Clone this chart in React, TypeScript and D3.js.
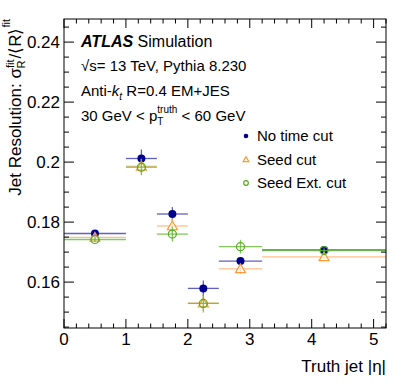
import React from "react";
import * as d3 from "d3";

// bins in |eta|
const binLow = [0, 1, 1.5, 2, 2.5, 3.2];
const binHigh = [1, 1.5, 2, 2.5, 3.2, 5.2];

// resolution per series
const noTimeCut = [0.1762, 0.2012, 0.1827, 0.1579, 0.167, 0.1707];
const noTimeCutErr = [0.0009, 0.003, 0.0023, 0.0026, 0.0012, 0.0008];
const seedCut = [0.1749, 0.1986, 0.1787, 0.153, 0.1644, 0.1684];
const seedCutErr = [0.0008, 0.0025, 0.0025, 0.0025, 0.0017, 0.0008];
const seedExtCut = [0.1742, 0.1983, 0.176, 0.1529, 0.1718, 0.1705];
const seedExtCutErr = [0.0008, 0.0027, 0.0025, 0.003, 0.0023, 0.0008];

const xMajor = [0, 1, 2, 3, 4, 5];
const yMajor = [0.16, 0.18, 0.2, 0.22, 0.24];
const yLabels = ["0.16", "0.18", "0.2", "0.22", "0.24"];

const FONT = "'Liberation Sans', Arial, Helvetica, sans-serif";

const series = [
  { name: "No time cut", values: noTimeCut, errs: noTimeCutErr, line: "#3a3ab0", marker: "#00008f", shape: "dot" },
  { name: "Seed cut", values: seedCut, errs: seedCutErr, line: "#ffb070", marker: "#ff9933", shape: "tri" },
  { name: "Seed Ext. cut", values: seedExtCut, errs: seedExtCutErr, line: "#66bb33", marker: "#55aa22", shape: "ring" },
];

function Marker({ shape, cx, cy, color, size }: any) {
  if (shape === "dot") return <circle cx={cx} cy={cy} r={size} fill={color} />;
  if (shape === "ring") return <circle cx={cx} cy={cy} r={size} fill="none" stroke={color} strokeWidth={1.2} />;
  const s = size * 1.25;
  const pts = [[cx, cy - s], [cx - s, cy + s * 0.75], [cx + s, cy + s * 0.75]];
  return <polygon points={pts.map((p) => p.join(",")).join(" ")} fill="white" fillOpacity={0.6} stroke={color} strokeWidth={1.2} />;
}

export default function App() {
  const W = 407, H = 391;
  const left = 64, right = 386, top = 19, bottom = 328;
  const x = d3.scaleLinear().domain([0, 5.2]).range([left, right]);
  const y = d3.scaleLinear().domain([0.1447, 0.2477]).range([bottom, top]);

  const xMinor = d3.range(0, 5.2001, 0.2).filter((v) => Math.abs(v - Math.round(v)) > 1e-6);
  const yMinor = d3.range(0.145, 0.2476, 0.005).filter((v) => !yMajor.some((m) => Math.abs(m - v) < 1e-6));

  return (
    <svg width={W} height={H} style={{ position: "absolute", left: 0, top: 0, background: "white" }} fontFamily={FONT}>
      <rect x={0} y={0} width={W} height={H} fill="white" />

      {/* data */}
      {series.map((s) => (
        <g key={s.name}>
          {s.values.map((v, i) => {
            const cx = x((binLow[i] + binHigh[i]) / 2);
            return (
              <g key={i}>
                <line x1={x(binLow[i])} x2={x(binHigh[i])} y1={y(v)} y2={y(v)} stroke={s.line} strokeWidth={1.3} opacity={0.8} />
                <line x1={cx} x2={cx} y1={y(v - s.errs[i])} y2={y(v + s.errs[i])} stroke={s.line} strokeWidth={1.3} opacity={0.8} />
                <Marker shape={s.shape} cx={cx} cy={y(v)} color={s.marker} size={4} />
              </g>
            );
          })}
        </g>
      ))}

      {/* frame */}
      <rect x={left} y={top} width={right - left} height={bottom - top} fill="none" stroke="black" strokeWidth={1} />

      {/* x ticks */}
      {xMajor.map((v) => (
        <g key={"xM" + v}>
          <line x1={x(v)} x2={x(v)} y1={bottom} y2={bottom - 9} stroke="black" />
          <line x1={x(v)} x2={x(v)} y1={top} y2={top + 9} stroke="black" />
          <text x={x(v)} y={345} fontSize={17} textAnchor="middle">{v}</text>
        </g>
      ))}
      {xMinor.map((v) => (
        <g key={"xm" + v}>
          <line x1={x(v)} x2={x(v)} y1={bottom} y2={bottom - 4.5} stroke="black" />
          <line x1={x(v)} x2={x(v)} y1={top} y2={top + 4.5} stroke="black" />
        </g>
      ))}

      {/* y ticks */}
      {yMajor.map((v, i) => (
        <g key={"yM" + v}>
          <line x1={left} x2={left + 10} y1={y(v)} y2={y(v)} stroke="black" />
          <line x1={right} x2={right - 10} y1={y(v)} y2={y(v)} stroke="black" />
          <text x={left - 4} y={y(v) + 6} fontSize={17} textAnchor="end">{yLabels[i]}</text>
        </g>
      ))}
      {yMinor.map((v) => (
        <g key={"ym" + v}>
          <line x1={left} x2={left + 5} y1={y(v)} y2={y(v)} stroke="black" />
          <line x1={right} x2={right - 5} y1={y(v)} y2={y(v)} stroke="black" />
        </g>
      ))}

      {/* axis titles */}
      <text x={right} y={372} fontSize={17} textAnchor="end">Truth jet |η|</text>
      <text transform={`translate(21, ${top}) rotate(-90)`} fontSize={17} textAnchor="end">
        Jet Resolution: σ
        <tspan fontSize={11} dy={-7}>fit</tspan>
        <tspan fontSize={11} dx={-9} dy={11}>R</tspan>
        <tspan dx={2} dy={-4}>/⟨R⟩</tspan>
        <tspan fontSize={11} dy={-11}>fit</tspan>
      </text>

      {/* labels */}
      <text x={81} y={47} fontSize={16}>
        <tspan fontWeight="bold" fontStyle="italic">ATLAS</tspan>
        <tspan> Simulation</tspan>
      </text>
      <text x={81} y={71} fontSize={15}>√s= 13 TeV, Pythia 8.230</text>
      <text x={81} y={96} fontSize={15}>
        Anti-<tspan fontStyle="italic">k</tspan>
        <tspan fontSize={10} fontStyle="italic" dy={4}>t</tspan>
        <tspan dy={-4}>{" R=0.4 EM+JES"}</tspan>
      </text>
      <text x={81} y={121} fontSize={15}>
        {"30 GeV < p"}
        <tspan fontSize={10} dy={-8}>truth</tspan>
        <tspan fontSize={10} dx={-20} dy={12}>T</tspan>
        <tspan dx={14} dy={-4}>{" < 60 GeV"}</tspan>
      </text>

      {/* legend */}
      {series.map((s, i) => {
        const ly = 136 + i * 23.5;
        return (
          <g key={"leg" + s.name}>
            <Marker shape={s.shape} cx={246} cy={ly} color={s.marker} size={2.3} />
            <text x={257} y={ly + 5} fontSize={15}>{s.name}</text>
          </g>
        );
      })}
    </svg>
  );
}
